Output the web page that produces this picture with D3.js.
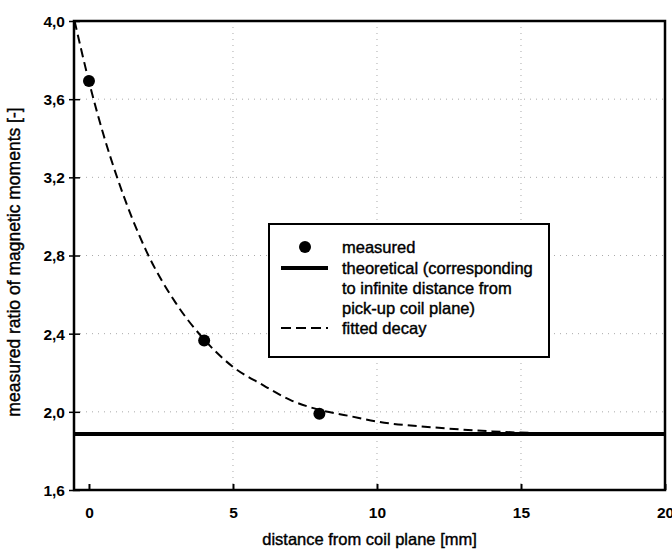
<!DOCTYPE html>
<html><head><meta charset="utf-8">
<script src="https://cdn.jsdelivr.net/npm/d3@7"></script>
<style>body{margin:0;background:#fff;}svg{display:block;}</style>
</head><body>
<svg id="c" width="672" height="550"></svg>
<script>
// measured points
const measuredX = [0, 4, 8];
const measuredY = [3.693, 2.365, 1.99];
// theoretical value (infinite distance)
const theoretical = 1.887;
// fitted decay curve
const fitX = [-0.5, 0, 0.5, 1, 1.5, 2, 3, 4, 5, 6, 7, 8, 9, 10, 12, 14, 16, 18, 20];
const fitY = [4.00, 3.69, 3.42, 3.19, 2.99, 2.82, 2.56, 2.37, 2.23, 2.14, 2.06, 2.01, 1.98, 1.95, 1.92, 1.90, 1.89, 1.888, 1.887];
// ticks
const xTicks = [0, 5, 10, 15, 20];
const yTicks = [1.6, 2.0, 2.4, 2.8, 3.2, 3.6, 4.0];
const legendLabels = ["measured", ["theoretical (corresponding", "to infinite distance from", "pick-up coil plane)"], "fitted decay"];
const xTitle = "distance from coil plane [mm]";
const yTitle = "measured ratio of magnetic moments [-]";

const L = 74, R = 665, T = 21, B = 490;
const svg = d3.select("#c");
const x = d3.scaleLinear().domain([-0.52, 20]).range([L, R]);
const y = d3.scaleLinear().domain([1.6, 4.0]).range([B, T]);
const fmt = d => d3.format(".1f")(d).replace(".", ",");
const tf = "Liberation Sans, Arial, sans-serif";

svg.append("defs").append("clipPath").attr("id", "clip")
  .append("rect").attr("x", L).attr("y", T).attr("width", R - L).attr("height", B - T);

// grid (dotted, faint)
const grid = svg.append("g").attr("stroke", "#aaa").attr("stroke-width", 1).attr("stroke-dasharray", "1,5");
grid.selectAll(".gy").data(yTicks.filter(v => v > 1.6 && v < 4.0)).join("line")
  .attr("x1", L).attr("x2", R).attr("y1", d => y(d)).attr("y2", d => y(d));
grid.selectAll(".gx").data(xTicks.filter(v => v > 0 && v < 20)).join("line")
  .attr("y1", T).attr("y2", B).attr("x1", d => x(d)).attr("x2", d => x(d));

// axes
const xAxis = d3.axisBottom(x).tickValues(xTicks).tickSize(-6).tickPadding(17).tickFormat(d3.format("d"));
const gx = svg.append("g").attr("transform", `translate(0,${B})`).call(xAxis);
gx.select(".domain").remove();
gx.selectAll(".tick line").attr("stroke-width", 2);
gx.selectAll("text").attr("font-family", tf).attr("font-size", 15.5).attr("font-weight", "bold").attr("fill", "#000");

const yAxis = d3.axisLeft(y).tickValues(yTicks).tickSize(5).tickPadding(4).tickFormat(fmt);
const gy = svg.append("g").attr("transform", `translate(${L},0)`).call(yAxis);
gy.select(".domain").remove();
gy.selectAll(".tick line").attr("x2", 6).attr("x1", -5).attr("stroke-width", 1.5);
gy.selectAll("text").attr("font-family", tf).attr("font-size", 15.5).attr("font-weight", "bold").attr("fill", "#000").attr("dy", "0.35em");

// frame
svg.append("rect").attr("x", L).attr("y", T).attr("width", R - L).attr("height", B - T)
  .attr("fill", "none").attr("stroke", "#000").attr("stroke-width", 2.5);

const plot = svg.append("g").attr("clip-path", "url(#clip)");
// theoretical line
plot.append("line").attr("x1", L).attr("x2", R).attr("y1", y(theoretical)).attr("y2", y(theoretical))
  .attr("stroke", "#000").attr("stroke-width", 4);
// fitted decay
const fitData = fitX.map((v, i) => [v, fitY[i]]);
plot.append("path").datum(fitData)
  .attr("d", d3.line().x(d => x(d[0])).y(d => y(d[1])).curve(d3.curveMonotoneX))
  .attr("fill", "none").attr("stroke", "#000").attr("stroke-width", 2).attr("stroke-dasharray", "9,5");
// measured points
svg.selectAll(".pt").data(measuredX.map((v, i) => [v, measuredY[i]])).join("circle")
  .attr("cx", d => x(d[0])).attr("cy", d => y(d[1])).attr("r", 6).attr("fill", "#000");

// legend
const lg = svg.append("g");
lg.append("rect").attr("x", 269).attr("y", 224).attr("width", 280).attr("height", 133)
  .attr("fill", "#fff").attr("stroke", "#000").attr("stroke-width", 2);
lg.append("circle").attr("cx", 305).attr("cy", 247).attr("r", 6).attr("fill", "#000");
lg.append("line").attr("x1", 281).attr("x2", 328).attr("y1", 268).attr("y2", 268).attr("stroke", "#000").attr("stroke-width", 4);
lg.append("line").attr("x1", 281).attr("x2", 328).attr("y1", 328).attr("y2", 328).attr("stroke", "#000").attr("stroke-width", 2).attr("stroke-dasharray", "10,5");
const rows = [[legendLabels[0], 247], [legendLabels[1][0], 268], [legendLabels[1][1], 288], [legendLabels[1][2], 308], [legendLabels[2], 328]];
lg.selectAll(".lt").data(rows).join("text")
  .attr("x", 342).attr("y", d => d[1]).attr("dy", "0.35em")
  .attr("font-family", tf).attr("font-size", 16.5).attr("fill", "#000")
  .attr("stroke", "#000").attr("stroke-width", 0.4).text(d => d[0]);

// titles
svg.append("text").attr("x", (L + R) / 2).attr("y", 545).attr("text-anchor", "middle")
  .attr("font-family", tf).attr("font-size", 16.5).attr("fill", "#000")
  .attr("stroke", "#000").attr("stroke-width", 0.4).text(xTitle);
svg.append("text").attr("transform", "translate(20,262) rotate(-90)").attr("text-anchor", "middle")
  .attr("font-family", tf).attr("font-size", 17.5).attr("fill", "#000")
  .attr("stroke", "#000").attr("stroke-width", 0.4).text(yTitle);
</script>
</body></html>
